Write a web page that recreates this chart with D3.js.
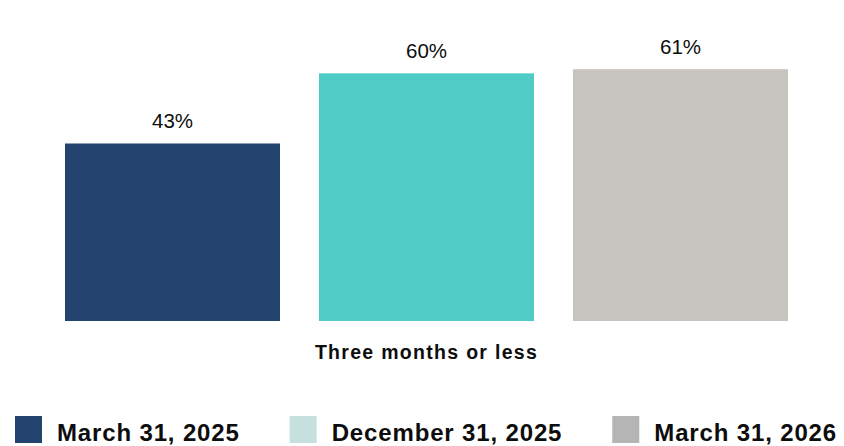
<!DOCTYPE html>
<html>
<head>
<meta charset="utf-8">
<script src="https://cdn.jsdelivr.net/npm/d3@7/dist/d3.min.js"></script>
<style>
  html, body { margin: 0; padding: 0; background: #ffffff; }
  svg { display: block; }
  text { font-family: "Liberation Sans", Arial, sans-serif; }
</style>
</head>
<body>
<svg id="chart" width="844" height="446"></svg>
<script>
// ---- Data ----
const categories = ["Three months or less"];
const seriesNames = ["March 31, 2025", "December 31, 2025", "March 31, 2026"];
const values = [43, 60, 61];
const valueLabels = ["43%", "60%", "61%"];

// ---- Styles ----
const barColors = ["#23446F", "#4ECCC5", "#C8C4C0"];
const legendColors = ["#23446F", "#C6E0E0", "#B5B5B5"];

const svg = d3.select("#chart");

const x = d3.scaleBand()
  .domain(seriesNames)
  .range([45.5, 807.5])
  .paddingInner(39 / 254)
  .paddingOuter(39 / 508);

const y = d3.scaleLinear()
  .domain([0, 70])
  .range([321, 321 - 70 * 4.128]);

const color = d3.scaleOrdinal().domain(seriesNames).range(barColors);
const legendColor = d3.scaleOrdinal().domain(seriesNames).range(legendColors);

const data = seriesNames.map((s, i) => ({ series: s, value: values[i], label: valueLabels[i] }));

// Bars
svg.append("g").selectAll("rect")
  .data(data)
  .join("rect")
  .attr("x", d => x(d.series))
  .attr("y", d => y(d.value))
  .attr("width", x.bandwidth())
  .attr("height", d => y(0) - y(d.value))
  .attr("fill", d => color(d.series));

// Value labels
svg.append("g").selectAll("text")
  .data(data)
  .join("text")
  .attr("x", d => x(d.series) + x.bandwidth() / 2)
  .attr("y", d => y(d.value) - 15)
  .attr("text-anchor", "middle")
  .attr("font-size", "20.5px")
  .attr("fill", "#0d0d0d")
  .text(d => d.label);

// Category axis label
const xMid = (x(seriesNames[0]) + x(seriesNames[seriesNames.length - 1]) + x.bandwidth()) / 2;
svg.append("text")
  .attr("x", xMid)
  .attr("y", 359)
  .attr("text-anchor", "middle")
  .attr("font-size", "19.5px")
  .attr("font-weight", "bold")
  .attr("letter-spacing", "1.3px")
  .attr("fill", "#0d0d0d")
  .text(categories[0]);

// Legend
const legend = svg.append("g");
let lx = 15;
seriesNames.forEach((s, i) => {
  const g = legend.append("g");
  g.append("rect")
    .attr("x", lx)
    .attr("y", 416)
    .attr("width", 27)
    .attr("height", 27)
    .attr("fill", legendColor(s));
  const t = g.append("text")
    .attr("x", lx + 42)
    .attr("y", 441)
    .attr("font-size", "24px")
    .attr("font-weight", "bold")
    .attr("letter-spacing", "0.85px")
    .attr("fill", "#0d0d0d")
    .text(s);
  const w = t.node().getComputedTextLength();
  lx = lx + 42 + w + 50;
});
</script>
</body>
</html>
